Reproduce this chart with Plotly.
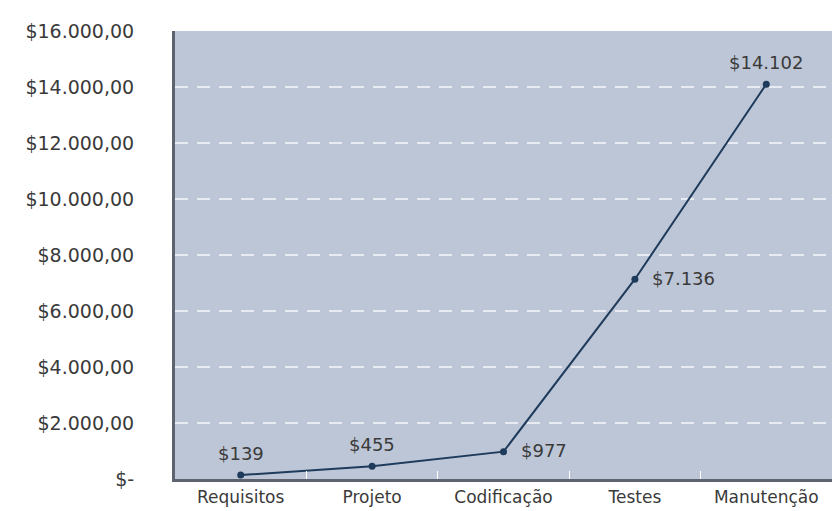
import plotly.graph_objects as go

categories = ["Requisitos", "Projeto", "Codificação", "Testes", "Manutenção"]
values = [139, 455, 977, 7136, 14102]
point_labels = ["$139", "$455", "$977", "$7.136", "$14.102"]
label_positions = ["top", "top", "right", "right", "top"]

tick_vals = [0, 2000, 4000, 6000, 8000, 10000, 12000, 14000, 16000]
tick_text = ["$-", "$2.000,00", "$4.000,00", "$6.000,00", "$8.000,00",
             "$10.000,00", "$12.000,00", "$14.000,00", "$16.000,00"]

FONT = "DejaVu Sans"
TXT = "#3a3a3a"

fig = go.Figure()
fig.add_trace(go.Scatter(
    x=categories, y=values, mode="lines+markers",
    line=dict(color="#1f3b5c", width=2),
    marker=dict(color="#1f3b5c", size=7),
    hoverinfo="skip", showlegend=False,
))

for c, v, t, p in zip(categories, values, point_labels, label_positions):
    if p == "top":
        fig.add_annotation(x=c, y=v, text=t, showarrow=False, xanchor="center",
                           yanchor="bottom", yshift=9,
                           font=dict(family=FONT, size=18, color=TXT))
    else:
        fig.add_annotation(x=c, y=v, text=t, showarrow=False, xanchor="left",
                           yanchor="middle", xshift=15, yshift=1,
                           font=dict(family=FONT, size=18, color=TXT))

fig.update_layout(
    width=832, height=511,
    margin=dict(l=175, r=0, t=31, b=32),
    paper_bgcolor="white",
    plot_bgcolor="#bdc6d6",
    font=dict(family=FONT, color=TXT),
)
fig.update_xaxes(
    type="category", range=[-0.5, 4.5],
    showline=True, linecolor="#5d6470", linewidth=3,
    showgrid=False,
    ticks="inside", tickson="boundaries", ticklen=8, tickcolor="white", tickwidth=1,
    tickfont=dict(family=FONT, size=17, color=TXT),
    ticklabelstandoff=1,
)
fig.update_yaxes(
    range=[0, 16000], tickvals=tick_vals, ticktext=tick_text,
    showline=True, linecolor="#5d6470", linewidth=3,
    showgrid=True, gridcolor="#e8ecf2", griddash="13px,9px", gridwidth=1.5,
    zeroline=False,
    tickfont=dict(family=FONT, size=19, color=TXT),
    ticklabelstandoff=34,
)

fig.write_html("out.html")
